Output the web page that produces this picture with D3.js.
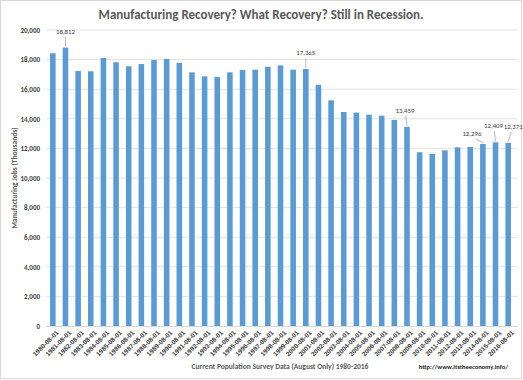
<!DOCTYPE html>
<html><head><meta charset="utf-8">
<script src="https://cdn.jsdelivr.net/npm/d3@7"></script>
<style>html,body{margin:0;padding:0;background:#fff;}svg{display:block;font-family:Carlito,"Open Sans","Liberation Sans",sans-serif;}</style>
</head><body>
<script>
const years = d3.range(1980, 2017).map(y => y + "-08-01");
const jobs = [18430,18812,17230,17210,18110,17820,17550,17700,17970,18040,
              17780,17140,16870,16820,17140,17300,17320,17520,17610,17320,
              17365,16300,15250,14460,14420,14280,14210,13920,13459,11740,
              11640,11870,12070,12100,12296,12409,12371];
const yTicks = [0,2000,4000,6000,8000,10000,12000,14000,16000,18000,20000];
const labelled = {"1981-08-01":[0,-14],"2000-08-01":[0,-14],"2008-08-01":[-2,-14],
                  "2014-08-01":[-11,-8],"2015-08-01":[-2,-14],"2016-08-01":[5,-14]};

const W = 523, H = 380;
const svg = d3.select("body").append("svg").attr("width", W).attr("height", H);
svg.append("rect").attr("x",0.5).attr("y",0.5).attr("width",W-2).attr("height",H-2)
  .attr("fill","#fff").attr("stroke","#d9d9d9");

const x = d3.scaleBand().domain(years).range([46.5, 514.5]).paddingInner(0.56).paddingOuter(0.28);
const y = d3.scaleLinear().domain([0, 20000]).range([326, 30]);

// gridlines
svg.append("g").selectAll("line").data(yTicks.filter(d => d > 0)).join("line")
  .attr("x1", 46).attr("x2", 518).attr("y1", d => y(d)).attr("y2", d => y(d))
  .attr("stroke", "#e3e3e3").attr("stroke-width", 1);

// y axis
const ya = svg.append("g").attr("transform","translate(46,0)")
  .call(d3.axisLeft(y).tickValues(yTicks).tickSize(0).tickPadding(6).tickFormat(d3.format(",")));
ya.select(".domain").remove();
ya.selectAll("text").attr("font-size", 7).attr("font-weight","bold").attr("fill","#404040")
  .attr("font-family","Carlito,'Open Sans',sans-serif");

// bars
svg.append("g").selectAll("rect").data(years).join("rect")
  .attr("x", d => x(d)).attr("width", x.bandwidth())
  .attr("y", (d,i) => y(jobs[i])).attr("height", (d,i) => y(0) - y(jobs[i]))
  .attr("fill", "#5b9bd5");

// baseline
svg.append("line").attr("x1",46).attr("x2",518).attr("y1",y(0)+0.5).attr("y2",y(0)+0.5)
  .attr("stroke","#d9d9d9");

// x axis
const xa = svg.append("g").attr("transform", `translate(0,${y(0)})`)
  .call(d3.axisBottom(x).tickSize(0).tickPadding(4));
xa.select(".domain").remove();
xa.selectAll("text").attr("font-size", 6.5).attr("fill","#404040").attr("font-weight","bold")
  .attr("text-anchor","end").attr("dy","0.3em").attr("dx","0")
  .attr("transform","translate(2,3) rotate(-45)");

// data labels
const lg = svg.append("g");
years.forEach((d,i) => {
  if (!labelled[d]) return;
  const [dx, dy] = labelled[d];
  const cx = x(d) + x.bandwidth()/2, top = y(jobs[i]);
  lg.append("line").attr("x1", cx).attr("x2", cx + dx*0.6).attr("y1", top - 1).attr("y2", top + dy + 3)
    .attr("stroke","#a6a6a6").attr("stroke-width",0.8);
  lg.append("text").attr("x", cx + dx).attr("y", top + dy)
    .attr("text-anchor","middle").attr("font-size",6.8).attr("fill","#404040")
    .text(d3.format(",")(jobs[i]));
});

// titles
svg.append("text").attr("x", 261).attr("y", 19).attr("text-anchor","middle")
  .attr("font-size", 13).attr("font-weight","bold").attr("fill","#595959")
  .text("Manufacturing Recovery? What Recovery? Still in Recession.");
svg.append("text").attr("transform","translate(17,178) rotate(-90)").attr("text-anchor","middle")
  .attr("font-size", 7.5).attr("fill","#595959").attr("font-weight","bold")
  .text("Manufacturing Jobs (Thousands)");
svg.append("text").attr("x", 280).attr("y", 369).attr("text-anchor","middle")
  .attr("font-size", 7.5).attr("fill","#595959").attr("font-weight","bold")
  .text("Current Population Survey Data (August Only) 1980-2016");
svg.append("text").attr("x", 508).attr("y", 369).attr("text-anchor","end")
  .attr("font-size", 6.5).attr("fill","#1a1a1a").attr("font-weight","bold")
  .text("http://www.itstheeconomy.info/");
</script>
</body></html>
